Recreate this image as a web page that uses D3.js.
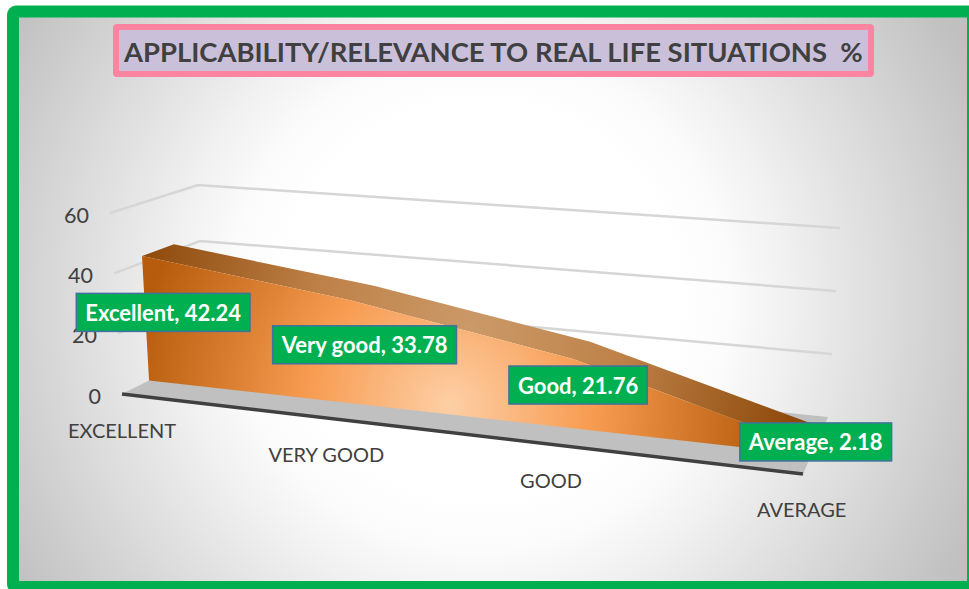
<!DOCTYPE html>
<html><head><meta charset="utf-8">
<script src="https://cdn.jsdelivr.net/npm/d3@7"></script>
<style>html,body{margin:0;padding:0;background:#fff;overflow:hidden}svg{display:block}</style>
</head><body><div id="c"></div>
<script>
const categories = ["EXCELLENT","VERY GOOD","GOOD","AVERAGE"];
const seriesLabels = ["Excellent","Very good","Good","Average"];
const values = [42.24,33.78,21.76,2.18];
const tickValues = [0,20,40,60];
const titleText = "APPLICABILITY/RELEVANCE TO REAL LIFE SITUATIONS  %";

const W=969,H=589,FONT="Lato, 'Open Sans', sans-serif";
const svg=d3.select("#c").append("svg").attr("width",W).attr("height",H);
const defs=svg.append("defs");
function radial(id,cx,cy,r,stops){
  const g=defs.append("radialGradient").attr("id",id).attr("gradientUnits","userSpaceOnUse")
    .attr("cx",cx).attr("cy",cy).attr("r",r);
  stops.forEach(s=>g.append("stop").attr("offset",s[0]).attr("stop-color",s[1]));
}
radial("bg",480,300,545,[[0,"#ffffff"],[0.36,"#ffffff"],[0.46,"#fbfbfb"],[0.56,"#f1f1f1"],[1,"#c0c0c0"]]);
radial("front",450,405,320,[[0,"#fdcfa6"],[0.45,"#f79b50"],[1,"#b65c0c"]]);
radial("top",470,330,345,[[0,"#cb9a69"],[0.45,"#be8148"],[1,"#8b4708"]]);

// box corners of the 3D plot, at value 0 and at the top of the axis
const lo={A:[122,394],B:[204,353],C:[828,417],D:[803,474]};
const hi={A:[110,213],B:[198,185],C:[840,228],D:[815,270]};
const mix=(a,b,t)=>[a[0]+(b[0]-a[0])*t,a[1]+(b[1]-a[1])*t];
const vScale=d3.scaleLinear().domain([0,60]).range([0,1]);
const uScale=d3.scaleLinear().domain([0,1,2,3]).range([0,0.305,0.638,1]);
const axisLabelU=d3.scaleLinear().domain([0,1,2,3]).range([0,0.30,0.63,0.998]);
const dataLabelU=d3.scaleLinear().domain([0,1,2,3]).range([0.005,0.31,0.635,1]);
const FRONT=0.33,BACK=0.7,MID=0.5;
function P(u,d,v){
  const bot=mix(mix(lo.A,lo.D,u),mix(lo.B,lo.C,u),d);
  const top=mix(mix(hi.A,hi.D,u),mix(hi.B,hi.C,u),d);
  return mix(bot,top,vScale(v));
}
const poly=pts=>"M"+pts.map(p=>p.join(",")).join("L")+"Z";
const line=d3.line();

// panel
svg.append("rect").attr("x",13).attr("y",11.5).attr("width",960).attr("height",575.5).attr("rx",3)
  .attr("fill","url(#bg)").attr("stroke","#00b050").attr("stroke-width",12);

// gridlines on the side and back wall
const gridTicks=tickValues.filter(t=>t>0);
svg.append("g").selectAll("path").data(gridTicks).join("path")
  .attr("d",t=>line([P(0,0,t),P(0,1,t),P(1,1,t)]))
  .attr("fill","none").attr("stroke","#d6d6d6").attr("stroke-width",2.5);

// floor
svg.append("path").attr("d",poly([P(0,0,0),P(0,1,0),P(1,1,0),P(1,0,0)])).attr("fill","#c0c0c0");

// area body
const idx=d3.range(values.length);
const topFront=idx.map(i=>P(uScale(i),FRONT,values[i]));
const topBack=idx.map(i=>P(uScale(i),BACK,values[i]));
const last=idx.length-1;
svg.append("path").attr("d",poly([P(1,FRONT,0),P(1,BACK,0),topBack[last],topFront[last]])).attr("fill","#8b4708");
svg.append("path").attr("d",poly(topFront.concat(topBack.slice().reverse()))).attr("fill","url(#top)");
svg.append("path").attr("d",poly(topFront.concat([P(1,FRONT,0),P(0,FRONT,0)]))).attr("fill","url(#front)");

// front axis line
svg.append("path").attr("d",line([P(0,0,0),P(1,0,0)])).attr("stroke","#404040").attr("stroke-width",3.5).attr("fill","none");

// value ticks
svg.append("g").selectAll("text").data(tickValues).join("text")
  .attr("x",t=>P(0,0,t)[0]-21).attr("y",t=>P(0,0,t)[1]+1.5)
  .attr("text-anchor","end").attr("dominant-baseline","central")
  .attr("font-family",FONT).attr("font-size",21.5).attr("fill","#404040").text(t=>t);

// category labels
svg.append("g").selectAll("text").data(categories).join("text")
  .attr("x",(c,i)=>P(axisLabelU(i),0,0)[0]).attr("y",(c,i)=>P(axisLabelU(i),0,0)[1]+35.5)
  .attr("text-anchor","middle").attr("dominant-baseline","central")
  .attr("font-family",FONT).attr("font-size",20).attr("fill","#404040").text(c=>c);

// data labels
const lab=svg.append("g").selectAll("g").data(idx).join("g")
  .attr("transform",i=>{const p=P(dataLabelU(i),MID,values[i]/2);return `translate(${p[0]},${p[1]})`;});
const labText=i=>`${seriesLabels[i]}, ${values[i]}`;
lab.append("rect").attr("fill","#00b050").attr("stroke","#41719c").attr("stroke-width",1.5).attr("y",-19).attr("height",38);
lab.append("text").attr("text-anchor","middle").attr("dominant-baseline","central")
  .attr("font-family",FONT).attr("font-weight",700).attr("font-size",22).attr("fill","#fff").text(labText);
lab.each(function(){
  const g=d3.select(this),w=g.select("text").node().getComputedTextLength()+18;
  g.select("rect").attr("x",-w/2).attr("width",w);
});

// title
svg.append("rect").attr("x",116).attr("y",27).attr("width",755).attr("height",47).attr("rx",1)
  .attr("fill","#cbc0da").attr("stroke","#fb84a0").attr("stroke-width",6);
svg.append("text").attr("x",124).attr("y",51.5).attr("dominant-baseline","central")
  .attr("xml:space","preserve").style("white-space","pre")
  .attr("font-family",FONT).attr("font-weight",700).attr("font-size",27.4).attr("fill","#404040").text(titleText);
</script></body></html>
